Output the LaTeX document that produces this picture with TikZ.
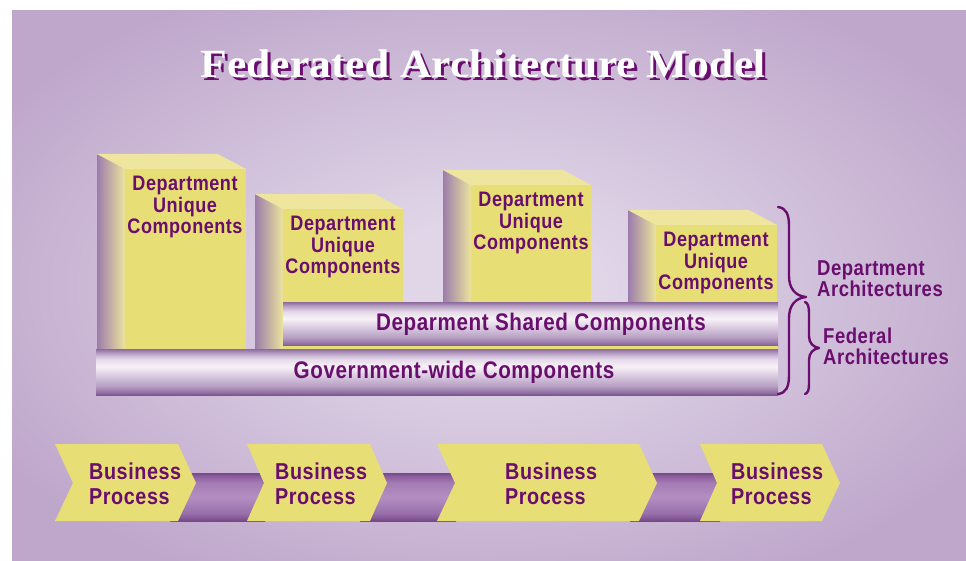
\documentclass[tikz,border=0pt]{standalone}
\usepackage{fontspec}
\newfontfamily\lblfont[LetterSpace=2.5,FakeStretch=0.86]{Liberation Sans}
\newfontfamily\ttlfont[FakeStretch=1.09]{Liberation Serif}
\definecolor{bgedge}{HTML}{BFA7CB}
\definecolor{bglight}{HTML}{E0D6E8}
\definecolor{ink}{HTML}{6A0E6E}
\definecolor{front}{HTML}{E8DE76}
\definecolor{topf}{HTML}{EEE69E}
\definecolor{sideL}{HTML}{9C7CAC}
\definecolor{sideM}{HTML}{D6C6CC}
\definecolor{sideR}{HTML}{ECE49C}
\definecolor{brA}{HTML}{7C5690}
\definecolor{brB}{HTML}{9272A4}
\definecolor{brC}{HTML}{B8A0C4}
\definecolor{brD}{HTML}{DCCEE2}
\definecolor{brE}{HTML}{F7F2F7}
\definecolor{brF}{HTML}{E6DAEA}
\definecolor{brG}{HTML}{BCA4C8}
\definecolor{brH}{HTML}{8C6A9C}
\definecolor{bnA}{HTML}{784889}
\definecolor{bnB}{HTML}{9870AA}
\definecolor{bnC}{HTML}{B48EC2}
\definecolor{bnD}{HTML}{A47CB4}
\definecolor{bnE}{HTML}{8A5C9C}
% shadings: the path's bounding box maps onto 25bp..75bp
\pgfdeclareverticalshading{barshade}{100bp}{color(0bp)=(brA); color(25bp)=(brA);
  color(28bp)=(brB); color(35bp)=(brC); color(47bp)=(brD); color(56bp)=(brE);
  color(64bp)=(brF); color(70bp)=(brG); color(75bp)=(brH); color(100bp)=(brH)}
\pgfdeclareverticalshading{bandshade}{100bp}{color(0bp)=(bnA); color(25bp)=(bnA);
  color(33bp)=(bnB); color(50bp)=(bnC); color(65bp)=(bnD); color(72bp)=(bnE);
  color(75bp)=(bnA); color(100bp)=(bnA)}
\pgfdeclareradialshading{bgshade}{\pgfpoint{0bp}{0bp}}{color(0bp)=(bglight);
  color(6bp)=(bglight); color(30bp)=(bgedge); color(50bp)=(bgedge)}
\newcommand\titletext{Federated Architecture Model}
\begin{document}
\begin{tikzpicture}[x=1pt,y=-1pt,
  sideface/.style={left color=sideL, middle color=sideM, right color=sideR},
  topface/.style={fill=topf},
  frontface/.style={fill=front},
  bar/.style={shading=barshade},
  band/.style={shading=bandshade},
  chevron/.style={fill=front},
  boxtext/.style={text=ink, font=\lblfont\bfseries\fontsize{21}{21.5}\selectfont, align=center, inner sep=0pt},
  bartext/.style={text=ink, font=\lblfont\bfseries\fontsize{24}{26}\selectfont, inner sep=0pt},
  bptext/.style={text=ink, font=\lblfont\bfseries\fontsize{23}{25}\selectfont, align=left, inner sep=0pt, anchor=west},
  sidetext/.style={text=ink, font=\lblfont\bfseries\fontsize{21.5}{21}\selectfont, align=left, inner sep=0pt, anchor=west},
  brace/.style={draw=ink, line width=2.4pt, line cap=round, line join=round}]
\useasboundingbox (0,0) rectangle (966,561);

% backdrop
\shade[shading=bgshade] (12,11) rectangle (966,561);

% title, white over a dark drop shadow
\node[text=white, font=\ttlfont\bfseries\fontsize{40}{44}\selectfont, inner sep=0pt] (title) at (483,65)
  {\rlap{\hspace{3pt}\raisebox{-3pt}{\textcolor{ink}{\titletext}}}\titletext};

% tower: #1 front left x, #2 right x, #3 front top y, #4 front bottom y, #5 side bottom y
\newcommand\towerblock[5]{%
  \shade[sideface] (#1-28,#3-15) -- (#1,#3) -- (#1,#5) -- (#1-28,#5) -- cycle;
  \fill[topface] (#1-28,#3-15) -- (#2-28,#3-15) -- (#2,#3) -- (#1,#3) -- cycle;
  \fill[frontface] (#1,#3) rectangle (#2,#4);
}
\towerblock{125}{246}{169}{350}{350}
\towerblock{283}{403}{209}{348}{350}
\towerblock{471}{591}{185}{348}{348}
\towerblock{656}{777}{225}{348}{348}

% shared and government-wide layers
\shade[bar] (283,302) rectangle (778,346);
\fill[front] (283,346) rectangle (778,349);
\shade[bar] (96,349) rectangle (778,395);

\node[boxtext] (u1) at (185,207) {Department\\Unique\\Components};
\node[boxtext] (u2) at (343,247) {Department\\Unique\\Components};
\node[boxtext] (u3) at (531,223) {Department\\Unique\\Components};
\node[boxtext] (u4) at (716,263) {Department\\Unique\\Components};
\node[bartext] (shared) at (541,324) {Deparment Shared Components};
\node[bartext] (gov) at (454,372) {Government-wide Components};

% braces
\coordinate (dTop) at (778,207);
\coordinate (dTip) at (806,297);
\coordinate (dBot) at (778,394);
\draw[brace] (dTop) .. controls (786,208) and (789,214) .. (789,226)
  -- (789,276) .. controls (789,288) and (795,296) .. (dTip)
  .. controls (795,298) and (789,306) .. (789,318)
  -- (789,375) .. controls (789,387) and (786,393) .. (dBot);
\coordinate (fTop) at (805,302);
\coordinate (fTip) at (819,348);
\coordinate (fBot) at (805,394);
\draw[brace] (fTop) .. controls (808,303) and (809,307) .. (809,313)
  -- (809,336) .. controls (809,343) and (813,347) .. (fTip)
  .. controls (813,349) and (809,353) .. (809,360)
  -- (809,384) .. controls (809,390) and (808,393) .. (fBot);
\node[sidetext] (dept) at (817,279) {Department\\Architectures};
\node[sidetext] (fed) at (823,346) {Federal\\Architectures};

% process chain
\shade[band] (170,473) rectangle (265,521);
\shade[band] (360,473) rectangle (456,521);
\shade[band] (630,473) rectangle (720,521);
\fill[chevron] (55,444) -- (178,444) -- (196,483) -- (178,521) -- (55,521) -- (73,483) -- cycle;
\fill[chevron] (247,444) -- (370,444) -- (387,483) -- (370,521) -- (247,521) -- (264,483) -- cycle;
\fill[chevron] (437,444) -- (639,444) -- (657,483) -- (639,521) -- (437,521) -- (455,483) -- cycle;
\fill[chevron] (700,444) -- (822,444) -- (840,483) -- (822,521) -- (700,521) -- (717,483) -- cycle;
\node[bptext] (bp1) at (89,484) {Business\\Process};
\node[bptext] (bp2) at (275,484) {Business\\Process};
\node[bptext] (bp3) at (505,484) {Business\\Process};
\node[bptext] (bp4) at (731,484) {Business\\Process};
\end{tikzpicture}
\end{document}
